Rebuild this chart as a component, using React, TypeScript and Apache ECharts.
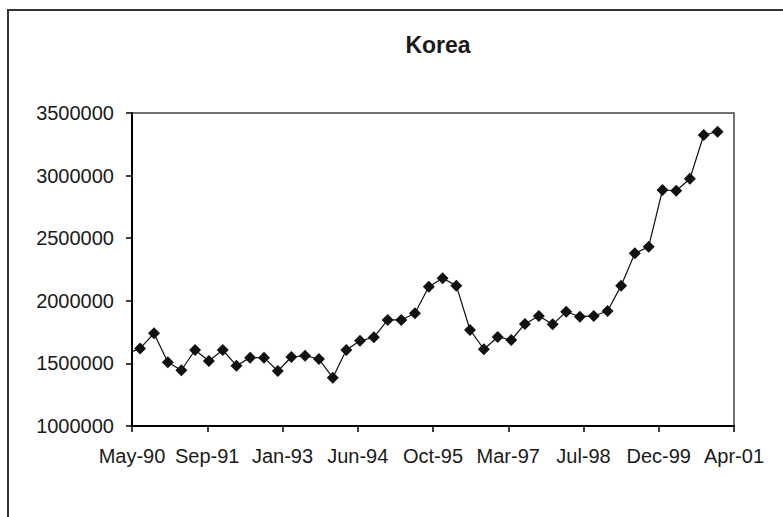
import React, { useEffect, useRef } from "react";
import * as echarts from "echarts";

// Quarter-end dates; the first one lies just before the axis start (line enters from the left)
const dates: string[] = [
  "1990-03-31", "1990-06-30", "1990-09-30", "1990-12-31",
  "1991-03-31", "1991-06-30", "1991-09-30", "1991-12-31",
  "1992-03-31", "1992-06-30", "1992-09-30", "1992-12-31",
  "1993-03-31", "1993-06-30", "1993-09-30", "1993-12-31",
  "1994-03-31", "1994-06-30", "1994-09-30", "1994-12-31",
  "1995-03-31", "1995-06-30", "1995-09-30", "1995-12-31",
  "1996-03-31", "1996-06-30", "1996-09-30", "1996-12-31",
  "1997-03-31", "1997-06-30", "1997-09-30", "1997-12-31",
  "1998-03-31", "1998-06-30", "1998-09-30", "1998-12-31",
  "1999-03-31", "1999-06-30", "1999-09-30", "1999-12-31",
  "2000-03-31", "2000-06-30", "2000-09-30", "2000-12-31",
];

const values: number[] = [
  1575000,
  1620000, 1740000, 1510000, 1445000, 1607000, 1519000, 1607000, 1482000, 1546000, 1546000,
  1439000, 1551000, 1562000, 1535000, 1386000, 1607000, 1681000, 1708000, 1847000, 1847000,
  1900000, 2113000, 2180000, 2121000, 1767000, 1613000, 1711000, 1687000, 1815000, 1879000,
  1812000, 1913000, 1873000, 1879000, 1919000, 2121000, 2379000, 2432000, 2885000, 2879000,
  2975000, 3324000, 3351000,
];

const title = "Korea";
const monthNames = ["Jan", "Feb", "Mar", "Apr", "May", "Jun", "Jul", "Aug", "Sep", "Oct", "Nov", "Dec"];

// Excel-style serial day numbers
const EXCEL_OFFSET = 25569;
const toSerial = (iso: string): number => {
  const [y, m, d] = iso.split("-").map(Number);
  return Date.UTC(y, m - 1, d) / 86400000 + EXCEL_OFFSET;
};
const fmtSerial = (serial: number): string => {
  const dt = new Date((serial - EXCEL_OFFSET) * 86400000);
  const yy = String(dt.getUTCFullYear() % 100).padStart(2, "0");
  return `${monthNames[dt.getUTCMonth()]}-${yy}`;
};

const FONT = "'Liberation Sans', Arial, sans-serif";

export default function App() {
  const ref = useRef<HTMLDivElement>(null);
  useEffect(() => {
    if (!ref.current) return;
    const chart = echarts.init(ref.current, undefined, { renderer: "svg" });
    const seriesData = dates.map((d, i) => {
      const item: any = { value: [toSerial(d), values[i]] };
      if (i === 0) item.symbol = "none";
      return item;
    });
    chart.setOption({
      animation: false,
      backgroundColor: "#ffffff",
      title: {
        text: title,
        left: 433,
        top: 28,
        textAlign: "center",
        textStyle: { fontFamily: FONT, fontSize: 23, fontWeight: "bold", color: "#1a1a1a" },
      },
      graphic: [
        {
          type: "rect",
          z: -1,
          shape: { x: 8, y: 10, width: 820, height: 560 },
          style: { fill: "none", stroke: "#333333", lineWidth: 2 },
        },
      ],
      grid: {
        left: 132,
        top: 113,
        width: 602,
        height: 313,
        show: true,
        borderColor: "#444444",
        borderWidth: 1.5,
        backgroundColor: "transparent",
      },
      xAxis: {
        type: "value",
        min: 33000,
        max: 37000,
        interval: 500,
        splitLine: { show: false },
        axisLine: { show: true, onZero: false, lineStyle: { color: "#000", width: 2 } },
        axisTick: { show: true, length: 6, lineStyle: { color: "#000", width: 1.5 } },
        axisLabel: {
          margin: 20,
          fontFamily: FONT,
          fontSize: 20,
          color: "#1a1a1a",
          formatter: (v: number) => fmtSerial(v),
        },
      },
      yAxis: {
        type: "value",
        min: 1000000,
        max: 3500000,
        interval: 500000,
        splitLine: { show: false },
        axisLine: { show: true, onZero: false, lineStyle: { color: "#000", width: 2 } },
        axisTick: { show: true, length: 6, lineStyle: { color: "#000", width: 1.5 } },
        axisLabel: {
          margin: 18,
          fontFamily: FONT,
          fontSize: 20,
          color: "#1a1a1a",
          formatter: (v: number) => String(v),
        },
      },
      series: [
        {
          type: "line",
          data: seriesData,
          clip: false,
          symbol: "diamond",
          symbolSize: 12,
          showSymbol: true,
          lineStyle: { color: "#111", width: 1.2 },
          itemStyle: { color: "#111", borderWidth: 0 },
        },
      ],
    });
    return () => chart.dispose();
  }, []);
  return (
    <div
      ref={ref}
      style={{ position: "absolute", left: 0, top: 0, width: 783, height: 517, background: "#fff" }}
    />
  );
}
